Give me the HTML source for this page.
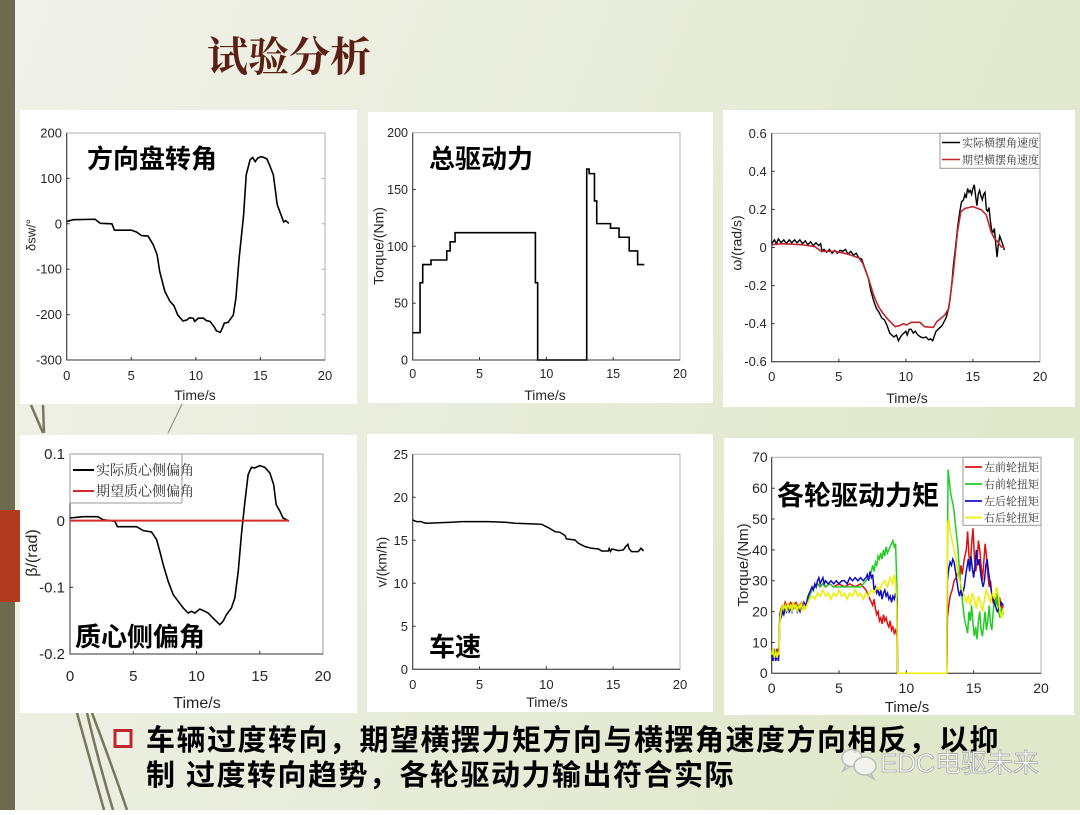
<!DOCTYPE html>
<html><head><meta charset="utf-8"><style>
html,body{margin:0;padding:0;}
body{width:1080px;height:810px;overflow:hidden;}
svg text{font-family:"Liberation Sans","Noto Sans CJK SC",sans-serif;}
.tk{font-size:13px;fill:#262626;}
.big{font-size:26px;font-weight:bold;fill:#000;}
.lg{font-family:"Liberation Serif","Noto Serif CJK SC",serif !important;fill:#333;}
</style></head><body>
<svg width="1080" height="810" viewBox="0 0 1080 810" xmlns="http://www.w3.org/2000/svg">
<defs>
<linearGradient id="bg" x1="0" y1="0" x2="1" y2="0.3">
<stop offset="0" stop-color="#f0f1e8"/><stop offset="0.5" stop-color="#e9eddc"/><stop offset="1" stop-color="#e0e8cc"/>
</linearGradient>
</defs>
<rect x="0" y="0" width="1080" height="810" fill="url(#bg)"/>
<rect x="0" y="0" width="15" height="810" fill="#6e6a50"/>
<rect x="0" y="510" width="20" height="92" fill="#b23a1e"/>

<!-- decorative lines -->
<g stroke="#77765f" fill="none" stroke-width="2.5">
<path d="M31,405 L43,433"/><path d="M43,405 L44,433"/>
<path d="M77,713 Q90,760 104,810"/><path d="M87,713 Q98,760 113,810"/><path d="M92,713 Q110,760 127,810"/>
</g>
<path d="M184,400 L168,433" stroke="#888" stroke-width="1"/>

<!-- title -->
<text x="207" y="71" style="font-family:'Liberation Serif','Noto Serif CJK SC',serif;font-size:41px;font-weight:bold;fill:#5c1f14">试验分析</text>

<!-- panels -->
<rect x="20" y="110" width="337" height="294" fill="#fff"/>
<rect x="368" y="112" width="345" height="291" fill="#fff"/>
<rect x="723" y="110" width="352" height="297" fill="#fff"/>
<rect x="20" y="435" width="337" height="278" fill="#fff"/>
<rect x="367" y="434" width="346" height="278" fill="#fff"/>
<rect x="724" y="438" width="350" height="277" fill="#fff"/>

<!-- ===== Chart 1 ===== -->
<g>
<rect x="66.7" y="133" width="258.3" height="227" fill="none" stroke="#b0b0b0" stroke-width="1"/>
<path d="M66.7,133 V360 H325" fill="none" stroke="#333" stroke-width="1"/>
<g stroke="#333" stroke-width="1">
<path d="M131.3,360v-3M195.9,360v-3M260.4,360v-3M66.7,178.4h3M66.7,223.8h3M66.7,269.2h3M66.7,314.6h3"/>
<path d="M325,178.4h-3M325,223.8h-3M325,269.2h-3M325,314.6h-3" stroke="#aaa"/>
</g>
<g class="tk" text-anchor="middle">
<text x="66.7" y="380">0</text><text x="131.3" y="380">5</text><text x="195.9" y="380">10</text><text x="260.4" y="380">15</text><text x="325" y="380">20</text>
</g>
<g class="tk" text-anchor="end">
<text x="62" y="137.5">200</text><text x="62" y="183">100</text><text x="62" y="228.3">0</text><text x="62" y="273.7">-100</text><text x="62" y="319">-200</text><text x="62" y="364.5">-300</text>
</g>
<text x="195" y="400" text-anchor="middle" style="font-size:14px;fill:#262626">Time/s</text>
<text transform="translate(32,235) rotate(-90)" text-anchor="middle" dominant-baseline="middle" style="font-size:13px;fill:#262626">δsw/°</text>
<svg x="66.7" y="133" width="258.3" height="227" viewBox="0 -200 20 500" preserveAspectRatio="none" overflow="visible">
<polyline fill="none" stroke="#000" stroke-width="1.6" vector-effect="non-scaling-stroke" points="0,-5 0.5,-9 2.2,-10 2.6,-1 3.5,0 3.7,14 5.0,14 5.4,18 5.8,26 6.3,27 6.7,46 7.0,68 7.2,105 7.6,149 8.0,171 8.3,180 8.6,201 9.0,214 9.3,212 9.5,207 9.8,208 9.9,215 10.2,208 10.6,208 10.8,213 11.1,215 11.4,226 11.6,236 11.9,239 12.05,230 12.2,219 12.5,217 12.9,201 13.1,164 13.35,76 13.7,-20 13.9,-108 14.2,-141 14.4,-146 14.6,-137 14.8,-145 15.1,-148 15.5,-143 15.7,-130 16.0,-108 16.3,-42 16.5,-27 16.8,-4 16.95,-7 17.2,-1"/>
</svg>
<text x="87" y="168" class="big">方向盘转角</text>
</g>

<!-- ===== Chart 2 ===== -->
<g>
<rect x="412.7" y="132.7" width="267.3" height="227.3" fill="none" stroke="#b0b0b0" stroke-width="1"/>
<path d="M412.7,132.7 V360 H680" fill="none" stroke="#333" stroke-width="1"/>
<g stroke="#333" stroke-width="1">
<path d="M479.5,360v-3M546.4,360v-3M613.2,360v-3M412.7,189.5h3M412.7,246.3h3M412.7,303.2h3"/>
</g>
<g class="tk" text-anchor="middle" style="font-size:12.5px">
<text x="412.7" y="378">0</text><text x="479.5" y="378">5</text><text x="546.4" y="378">10</text><text x="613.2" y="378">15</text><text x="680" y="378">20</text>
</g>
<g class="tk" text-anchor="end" style="font-size:12.5px">
<text x="408" y="137">200</text><text x="408" y="194">150</text><text x="408" y="251">100</text><text x="408" y="307.5">50</text><text x="408" y="364.5">0</text>
</g>
<text x="545" y="400" text-anchor="middle" style="font-size:14px;fill:#262626">Time/s</text>
<text transform="translate(380,246) rotate(-90)" text-anchor="middle" dominant-baseline="middle" style="font-size:14px;fill:#262626">Torque/(Nm)</text>
<svg x="412.7" y="132.7" width="267.3" height="227.3" viewBox="0 -200 20 200" preserveAspectRatio="none" overflow="visible">
<polyline fill="none" stroke="#000" stroke-width="1.6" vector-effect="non-scaling-stroke" points="0,-24 0.55,-24 0.55,-68 0.75,-68 0.75,-84 1.37,-84 1.37,-88 2.55,-88 2.55,-96 2.8,-96 2.8,-104 3.17,-104 3.17,-112 9.18,-112 9.18,-68 9.35,-68 9.35,0 13.02,0 13.02,-168 13.2,-168 13.2,-164 13.6,-164 13.6,-140 13.77,-140 13.77,-120 14.8,-120 14.8,-116 15.44,-116 15.44,-108 16.2,-108 16.2,-96 16.83,-96 16.83,-84 17.33,-84"/>
</svg>
<text x="429" y="168" class="big">总驱动力</text>
</g>

<!-- ===== Chart 3 ===== -->
<g>
<rect x="771.7" y="133.3" width="268.3" height="228.4" fill="none" stroke="#b0b0b0" stroke-width="1"/>
<path d="M771.7,133.3 V361.7 H1040" fill="none" stroke="#333" stroke-width="1"/>
<g stroke="#333" stroke-width="1">
<path d="M838.8,361.7v-3M905.9,361.7v-3M972.9,361.7v-3M771.7,171.4h3M771.7,209.4h3M771.7,247.5h3M771.7,285.6h3M771.7,323.6h3"/>
</g>
<g class="tk" text-anchor="middle">
<text x="771.7" y="381">0</text><text x="838.8" y="381">5</text><text x="905.9" y="381">10</text><text x="972.9" y="381">15</text><text x="1040" y="381">20</text>
</g>
<g class="tk" text-anchor="end">
<text x="766.7" y="138">0.6</text><text x="766.7" y="176">0.4</text><text x="766.7" y="214">0.2</text><text x="766.7" y="252">0</text><text x="766.7" y="290">-0.2</text><text x="766.7" y="328">-0.4</text><text x="766.7" y="366">-0.6</text>
</g>
<text x="907" y="403" text-anchor="middle" style="font-size:14px;fill:#262626">Time/s</text>
<text transform="translate(738,243) rotate(-90)" text-anchor="middle" dominant-baseline="middle" style="font-size:14px;fill:#262626">ω/(rad/s)</text>
<svg x="771.7" y="133.3" width="268.3" height="228.4" viewBox="0 -0.6 20 1.2" preserveAspectRatio="none" overflow="visible">
<polyline fill="none" stroke="#000" stroke-width="1.4" vector-effect="non-scaling-stroke" points="0,-0.02 0.2,-0.04 0.35,-0.02 0.5,-0.045 0.7,-0.025 0.9,-0.04 1.1,-0.02 1.3,-0.04 1.5,-0.025 1.7,-0.04 1.9,-0.025 2.1,-0.04 2.3,-0.02 2.5,-0.035 2.7,-0.015 2.9,-0.03 3.1,-0.01 3.3,-0.025 3.5,-0.01 3.65,-0.02 3.75,0.02 3.9,0.01 4.1,0.025 4.3,0.01 4.5,0.03 4.7,0.015 4.9,0.03 5.1,0.015 5.3,0.02 5.5,0.01 5.7,0.035 5.9,0.02 6.1,0.04 6.3,0.03 6.5,0.055 6.7,0.06 6.9,0.1 7.05,0.13 7.2,0.16 7.4,0.23 7.6,0.28 7.8,0.32 8.0,0.34 8.2,0.37 8.4,0.38 8.6,0.41 8.8,0.45 8.95,0.46 9.1,0.47 9.3,0.46 9.45,0.49 9.6,0.47 9.7,0.46 9.85,0.45 10.0,0.44 10.1,0.46 10.25,0.43 10.4,0.43 10.55,0.45 10.7,0.44 10.9,0.46 11.1,0.47 11.3,0.475 11.5,0.47 11.7,0.485 11.85,0.48 12.0,0.49 12.1,0.47 12.25,0.44 12.4,0.43 12.55,0.42 12.7,0.41 12.85,0.39 13.0,0.37 13.15,0.33 13.3,0.27 13.45,0.17 13.55,0.09 13.7,0.0 13.85,-0.1 14.0,-0.18 14.15,-0.24 14.3,-0.25 14.4,-0.28 14.5,-0.26 14.6,-0.31 14.7,-0.29 14.8,-0.3 14.9,-0.28 15.0,-0.31 15.1,-0.33 15.2,-0.27 15.3,-0.22 15.4,-0.28 15.5,-0.3 15.6,-0.27 15.7,-0.25 15.8,-0.28 15.9,-0.29 16.0,-0.2 16.1,-0.19 16.2,-0.21 16.3,-0.14 16.4,-0.09 16.5,-0.08 16.6,-0.1 16.7,-0.02 16.8,0.05 16.9,-0.02 17.0,-0.06 17.1,-0.04 17.2,-0.02 17.35,0.013"/>
<polyline fill="none" stroke="#c0272d" stroke-width="1.6" vector-effect="non-scaling-stroke" points="0,-0.015 0.75,-0.02 2.2,-0.015 3.2,-0.005 3.7,0.02 4.7,0.02 5.7,0.035 6.5,0.055 6.8,0.085 7.2,0.16 7.6,0.25 7.95,0.31 8.3,0.346 8.7,0.38 9.2,0.416 9.55,0.41 9.8,0.4 10.05,0.408 10.4,0.393 11.05,0.393 11.4,0.416 12.05,0.42 12.3,0.39 12.9,0.355 13.2,0.32 13.55,0.127 13.85,-0.083 14.1,-0.188 14.4,-0.205 15.0,-0.215 15.65,-0.197 16.0,-0.17 16.35,-0.083 16.6,-0.048 16.85,-0.03 17.1,-0.004 17.35,0"/>
</svg>
<rect x="940" y="133.3" width="100" height="35" fill="#fff" stroke="#999" stroke-width="1"/>
<line x1="942" y1="142.5" x2="960" y2="142.5" stroke="#000" stroke-width="1.5"/>
<line x1="942" y1="159.5" x2="960" y2="159.5" stroke="#c0272d" stroke-width="1.5"/>
<text x="962" y="146.5" class="lg" style="font-size:11px">实际横摆角速度</text>
<text x="962" y="163.5" class="lg" style="font-size:11px">期望横摆角速度</text>
</g>

<!-- ===== Chart 4 ===== -->
<g>
<rect x="70" y="454" width="253" height="200" fill="none" stroke="#999" stroke-width="1"/>
<path d="M70,454 V654 H323" fill="none" stroke="#333" stroke-width="1"/>
<g stroke="#333" stroke-width="1">
<path d="M133.25,654v-3M196.5,654v-3M259.75,654v-3M70,520.7h3M70,587.3h3"/>
</g>
<g class="tk" text-anchor="middle" style="font-size:15px">
<text x="70" y="681">0</text><text x="133.25" y="681">5</text><text x="196.5" y="681">10</text><text x="259.75" y="681">15</text><text x="323" y="681">20</text>
</g>
<g class="tk" text-anchor="end" style="font-size:15px">
<text x="65" y="459">0.1</text><text x="65" y="526">0</text><text x="65" y="592.5">-0.1</text><text x="65" y="659">-0.2</text>
</g>
<text x="197" y="708" text-anchor="middle" style="font-size:16px;fill:#262626">Time/s</text>
<text transform="translate(33,553) rotate(-90)" text-anchor="middle" dominant-baseline="middle" style="font-size:16px;fill:#262626">β/(rad)</text>
<svg x="70" y="454" width="253" height="200" viewBox="0 -0.1 20 0.3" preserveAspectRatio="none" overflow="visible">
<polyline fill="none" stroke="#000" stroke-width="1.6" vector-effect="non-scaling-stroke" points="0,-0.004 1.05,-0.006 2.2,-0.006 2.6,-0.0015 3.55,0.001 3.75,0.009 5.26,0.009 5.8,0.015 6.45,0.017 6.85,0.0285 7.1,0.046 7.37,0.066 7.76,0.091 8.16,0.111 8.55,0.121 8.95,0.131 9.34,0.1385 9.6,0.136 9.87,0.1385 10.26,0.1325 10.66,0.136 10.92,0.1385 11.3,0.146 11.84,0.156 12.1,0.151 12.37,0.141 12.76,0.131 13.03,0.116 13.3,0.076 13.55,0.021 13.8,-0.024 14.08,-0.069 14.34,-0.08 14.6,-0.079 15.0,-0.0825 15.4,-0.08 15.8,-0.0715 16.1,-0.054 16.3,-0.024 16.6,-0.014 16.84,-0.004 17.1,-0.0015 17.3,0.001"/>
<polyline fill="none" stroke="#d42a2a" stroke-width="2" vector-effect="non-scaling-stroke" points="0,0 17.3,0"/>
</svg>
<rect x="70" y="454" width="112" height="49" fill="#fff" stroke="#999" stroke-width="1"/>
<line x1="73" y1="470" x2="94" y2="470" stroke="#000" stroke-width="2"/>
<line x1="73" y1="491" x2="94" y2="491" stroke="#d42a2a" stroke-width="2"/>
<text x="96" y="475" class="lg" style="font-size:14px">实际质心侧偏角</text>
<text x="96" y="496" class="lg" style="font-size:14px">期望质心侧偏角</text>
<text x="75" y="646" class="big">质心侧偏角</text>
</g>

<!-- ===== Chart 5 ===== -->
<g>
<rect x="412.7" y="454.3" width="267.3" height="215" fill="none" stroke="#b0b0b0" stroke-width="1"/>
<path d="M412.7,454.3 V669.3 H680" fill="none" stroke="#333" stroke-width="1"/>
<g stroke="#333" stroke-width="1">
<path d="M479.5,669.3v-3M546.4,669.3v-3M613.2,669.3v-3M412.7,497.3h3M412.7,540.3h3M412.7,583.3h3M412.7,626.3h3"/>
</g>
<g class="tk" text-anchor="middle">
<text x="412.7" y="689">0</text><text x="479.5" y="689">5</text><text x="546.4" y="689">10</text><text x="613.2" y="689">15</text><text x="680" y="689">20</text>
</g>
<g class="tk" text-anchor="end">
<text x="408" y="459">25</text><text x="408" y="502">20</text><text x="408" y="545">15</text><text x="408" y="588">10</text><text x="408" y="631">5</text><text x="408" y="674">0</text>
</g>
<text x="547" y="707" text-anchor="middle" style="font-size:14px;fill:#262626">Time/s</text>
<text transform="translate(383,562) rotate(-90)" text-anchor="middle" dominant-baseline="middle" style="font-size:14px;fill:#262626">v/(km/h)</text>
<svg x="412.7" y="454.3" width="267.3" height="215" viewBox="0 -25 20 25" preserveAspectRatio="none" overflow="visible">
<polyline fill="none" stroke="#000" stroke-width="1.5" vector-effect="non-scaling-stroke" points="0,-17.36 0.3,-17.17 0.67,-17.17 0.8,-17.05 1.05,-16.98 2.17,-17.05 2.9,-17.1 3.67,-17.17 5.66,-17.17 6.9,-17.1 7.66,-16.98 9.15,-16.9 9.65,-16.86 10.15,-16.47 10.65,-16.0 11.02,-15.93 11.4,-15.54 11.5,-15.16 12.14,-15.04 12.4,-14.65 12.9,-14.26 13.4,-14.07 13.9,-13.99 14.14,-13.76 14.64,-13.76 14.7,-14.05 14.8,-13.7 14.9,-13.99 15.4,-13.8 15.76,-13.88 15.93,-14.26 16.1,-14.53 16.2,-13.99 16.38,-13.68 16.88,-13.68 17.08,-14.07 17.28,-13.76"/>
</svg>
<text x="429" y="656" class="big">车速</text>
</g>

<!-- ===== Chart 6 ===== -->
<g>
<rect x="771.7" y="457.3" width="269.3" height="216" fill="none" stroke="#b0b0b0" stroke-width="1"/>
<path d="M771.7,457.3 V673.3 H1041" fill="none" stroke="#333" stroke-width="1"/>
<g stroke="#333" stroke-width="1">
<path d="M839,673.3v-3M906.35,673.3v-3M973.7,673.3v-3M771.7,488.2h3M771.7,519h3M771.7,549.9h3M771.7,580.7h3M771.7,611.6h3M771.7,642.5h3"/>
</g>
<g class="tk" text-anchor="middle" style="font-size:14px">
<text x="771.7" y="693">0</text><text x="839" y="693">5</text><text x="906.35" y="693">10</text><text x="973.7" y="693">15</text><text x="1041" y="693">20</text>
</g>
<g class="tk" text-anchor="end" style="font-size:14px">
<text x="767.7" y="462">70</text><text x="767.7" y="493">60</text><text x="767.7" y="524">50</text><text x="767.7" y="555">40</text><text x="767.7" y="585.5">30</text><text x="767.7" y="616.5">20</text><text x="767.7" y="647.5">10</text><text x="767.7" y="678">0</text>
</g>
<text x="907" y="712" text-anchor="middle" style="font-size:15px;fill:#262626">Time/s</text>
<text transform="translate(744,565) rotate(-90)" text-anchor="middle" dominant-baseline="middle" style="font-size:15px;fill:#262626">Torque/(Nm)</text>
<svg x="771.7" y="457.3" width="269.3" height="216" viewBox="0 -70 20 70" preserveAspectRatio="none" overflow="visible">
<g fill="none" stroke-width="1.5">
<polyline stroke="#dd1111" vector-effect="non-scaling-stroke" points="0,-8 0.1,-6 0.2,-8 0.3,-5 0.4,-8 0.5,-6 0.55,-8 0.6,-19 0.7,-21 0.8,-22 0.9,-21 1.0,-23 1.2,-21 1.4,-23 1.6,-22 1.8,-23 2.0,-21 2.2,-23 2.4,-22 2.6,-22 2.8,-26 3.0,-27 3.2,-28 3.4,-29 3.6,-28 3.8,-29 4.0,-28 4.3,-29 4.6,-28 5.0,-29 5.4,-28 5.8,-29 6.2,-28 6.6,-29 6.8,-28 7.0,-27 7.2,-25 7.4,-23 7.5,-22 7.6,-24 7.7,-21 7.8,-19 7.9,-20 8.0,-17 8.1,-18 8.2,-16 8.3,-19 8.4,-17 8.5,-18 8.6,-16 8.7,-15 8.8,-17 8.9,-14 9.0,-15 9.1,-13 9.2,-14 9.3,-12 9.35,0 13.0,0 13.05,-18 13.15,-22 13.25,-25 13.4,-27 13.55,-30 13.7,-31 13.85,-33 13.95,-30 14.05,-35 14.15,-32 14.3,-37 14.45,-40 14.55,-46 14.65,-38 14.75,-35 14.85,-42 14.95,-47 15.05,-38 15.15,-33 15.25,-36 15.35,-43 15.45,-40 15.55,-35 15.65,-30 15.75,-36 15.85,-42 15.95,-38 16.05,-32 16.15,-28 16.25,-30 16.35,-25 16.5,-22 16.65,-24 16.8,-22 16.95,-24 17.1,-21 17.2,-22"/>
<polyline stroke="#22cc22" vector-effect="non-scaling-stroke" points="0,-7 0.1,-5 0.2,-8 0.3,-5 0.4,-7 0.5,-5 0.55,-7 0.6,-18 0.7,-20 0.8,-21 0.9,-20 1.0,-22 1.2,-21 1.4,-22 1.6,-21 1.8,-22 2.0,-21 2.2,-22 2.4,-21 2.6,-22 2.8,-25 3.0,-27 3.2,-28 3.4,-29 3.6,-28 3.8,-29 4.0,-28 4.3,-29 4.6,-28 5.0,-28 5.4,-28 5.8,-28 6.2,-28 6.6,-28 6.8,-29 7.0,-30 7.2,-31 7.4,-33 7.5,-35 7.6,-33 7.7,-36 7.8,-35 7.9,-38 8.0,-37 8.1,-39 8.2,-37 8.3,-40 8.4,-38 8.5,-41 8.6,-39 8.7,-40 8.8,-41 8.9,-42 9.0,-43 9.1,-41 9.2,-42 9.25,-35 9.3,-28 9.35,0 13.0,0 13.05,-40 13.1,-66 13.2,-62 13.3,-58 13.4,-56 13.5,-54 13.6,-50 13.7,-46 13.8,-42 13.9,-36 14.0,-30 14.1,-26 14.2,-22 14.3,-18 14.45,-15 14.55,-13 14.65,-20 14.75,-17 14.85,-22 14.95,-16 15.05,-12 15.15,-15 15.25,-11 15.35,-17 15.45,-20 15.55,-14 15.65,-12 15.75,-16 15.85,-20 15.95,-14 16.05,-17 16.15,-22 16.25,-16 16.35,-14 16.45,-20 16.55,-24 16.65,-22 16.75,-26 16.85,-20 16.95,-18 17.05,-21 17.2,-19"/>
<polyline stroke="#1010c0" vector-effect="non-scaling-stroke" points="0,-6 0.1,-4 0.2,-7 0.3,-4 0.4,-6 0.5,-4 0.55,-8 0.6,-17 0.7,-18 0.8,-20 0.9,-19 1.0,-21 1.1,-20 1.2,-22 1.3,-20 1.4,-21 1.5,-20 1.6,-22 1.7,-21 1.8,-22 1.9,-20 2.0,-21 2.1,-20 2.2,-22 2.3,-21 2.4,-23 2.5,-22 2.6,-23 2.7,-25 2.8,-26 2.9,-27 3.0,-28 3.1,-27 3.2,-29 3.3,-28 3.4,-30 3.5,-31 3.6,-29 3.7,-30 3.8,-31 3.9,-29 4.0,-30 4.2,-29 4.4,-30 4.6,-29 4.8,-30 5.0,-29 5.2,-30 5.4,-30 5.6,-29 5.8,-31 6.0,-30 6.2,-31 6.4,-30 6.6,-31 6.8,-30 7.0,-31 7.1,-32 7.2,-30 7.3,-33 7.4,-31 7.5,-32 7.6,-27 7.7,-28 7.8,-26 7.9,-27 8.0,-25 8.1,-27 8.2,-24 8.3,-26 8.4,-27 8.5,-25 8.6,-26 8.7,-24 8.8,-25 8.9,-23 9.0,-25 9.1,-24 9.2,-26 9.3,-24 9.35,0 13.0,0 13.05,-30 13.15,-34 13.25,-36 13.35,-35 13.45,-37 13.55,-36 13.65,-33 13.75,-30 13.85,-27 13.95,-25 14.05,-27 14.15,-25 14.3,-28 14.45,-33 14.6,-37 14.7,-33 14.8,-38 14.9,-34 15.0,-31 15.1,-35 15.2,-40 15.3,-35 15.4,-37 15.5,-33 15.6,-30 15.7,-28 15.8,-30 15.9,-35 16.0,-37 16.1,-33 16.2,-30 16.3,-27 16.45,-24 16.6,-22 16.75,-20 16.9,-21 17.05,-23 17.2,-22"/>
<polyline stroke="#eeee00" vector-effect="non-scaling-stroke" points="0,-6 0.1,-8 0.2,-5 0.3,-7 0.4,-5 0.5,-7 0.55,-6 0.6,-16 0.7,-20 0.8,-22 0.9,-21 1.0,-22 1.1,-20 1.2,-23 1.3,-21 1.4,-22 1.5,-20 1.6,-23 1.7,-21 1.8,-22 1.9,-20 2.0,-22 2.1,-21 2.2,-23 2.3,-20 2.4,-22 2.5,-21 2.6,-22 2.7,-23 2.8,-24 3.0,-25 3.2,-24 3.4,-26 3.6,-25 3.8,-27 4.0,-25 4.2,-26 4.4,-24 4.6,-26 4.8,-25 5.0,-27 5.2,-25 5.4,-26 5.6,-24 5.8,-26 6.0,-25 6.2,-27 6.4,-25 6.6,-26 6.8,-24 7.0,-26 7.2,-25 7.4,-27 7.6,-26 7.8,-28 8.0,-27 8.2,-29 8.4,-30 8.6,-28 8.8,-31 9.0,-29 9.1,-32 9.2,-30 9.25,-25 9.3,-20 9.35,0 13.0,0 13.05,-48 13.15,-50 13.25,-46 13.35,-44 13.45,-42 13.55,-40 13.65,-38 13.75,-35 13.85,-32 13.95,-30 14.05,-29 14.15,-27 14.3,-25 14.45,-23 14.6,-25 14.75,-22 14.9,-26 15.05,-24 15.2,-21 15.35,-25 15.5,-23 15.65,-20 15.8,-24 15.95,-27 16.1,-25 16.25,-23 16.4,-26 16.55,-24 16.7,-28 16.85,-25 16.95,-20 17.05,-18 17.2,-21"/>
</g>
</svg>
<rect x="963" y="457.3" width="78" height="68" fill="#fff" stroke="#999" stroke-width="1"/>
<line x1="965" y1="467" x2="982" y2="467" stroke="#dd1111" stroke-width="1.8"/>
<line x1="965" y1="484" x2="982" y2="484" stroke="#22cc22" stroke-width="1.8"/>
<line x1="965" y1="501" x2="982" y2="501" stroke="#1010c0" stroke-width="1.8"/>
<line x1="965" y1="517.5" x2="982" y2="517.5" stroke="#eeee00" stroke-width="1.8"/>
<g style="font-size:11px">
<text x="984" y="471" class="lg" style="font-size:11px">左前轮扭矩</text>
<text x="984" y="488" class="lg" style="font-size:11px">右前轮扭矩</text>
<text x="984" y="505" class="lg" style="font-size:11px">左后轮扭矩</text>
<text x="984" y="521.5" class="lg" style="font-size:11px">右后轮扭矩</text>
</g>
<text x="777" y="505" class="big" style="font-size:27px">各轮驱动力矩</text>
</g>

<!-- bullet text -->
<rect x="115" y="730.5" width="16" height="16" fill="#f4f2ea" stroke="#c0272d" stroke-width="3"/>
<text x="146" y="750" style="font-size:29px;font-weight:bold;fill:#000;letter-spacing:1.5px">车辆过度转向，期望横摆力矩方向与横摆角速度方向相反，以抑</text>
<text x="146" y="785" style="font-size:29px;font-weight:bold;fill:#000;letter-spacing:1.5px">制  过度转向趋势，各轮驱动力输出符合实际</text>

<!-- watermark -->
<g fill="none" stroke="#b8b8b8" stroke-width="1.5" opacity="0.9">
<ellipse cx="852" cy="758" rx="10" ry="8.5" fill="#f5f5f0"/>
<path d="M846,765 L843,771 L851,766"/>
<ellipse cx="865" cy="766" rx="11" ry="9" fill="#f5f5f0"/>
<path d="M871,774 L874,779 L867,775"/>
</g>
<text x="880" y="772" style="font-size:26px;fill:#ffffff;stroke:#a8a8a8;stroke-width:0.8px">EDC电驱未来</text>
</svg>
</body></html>
